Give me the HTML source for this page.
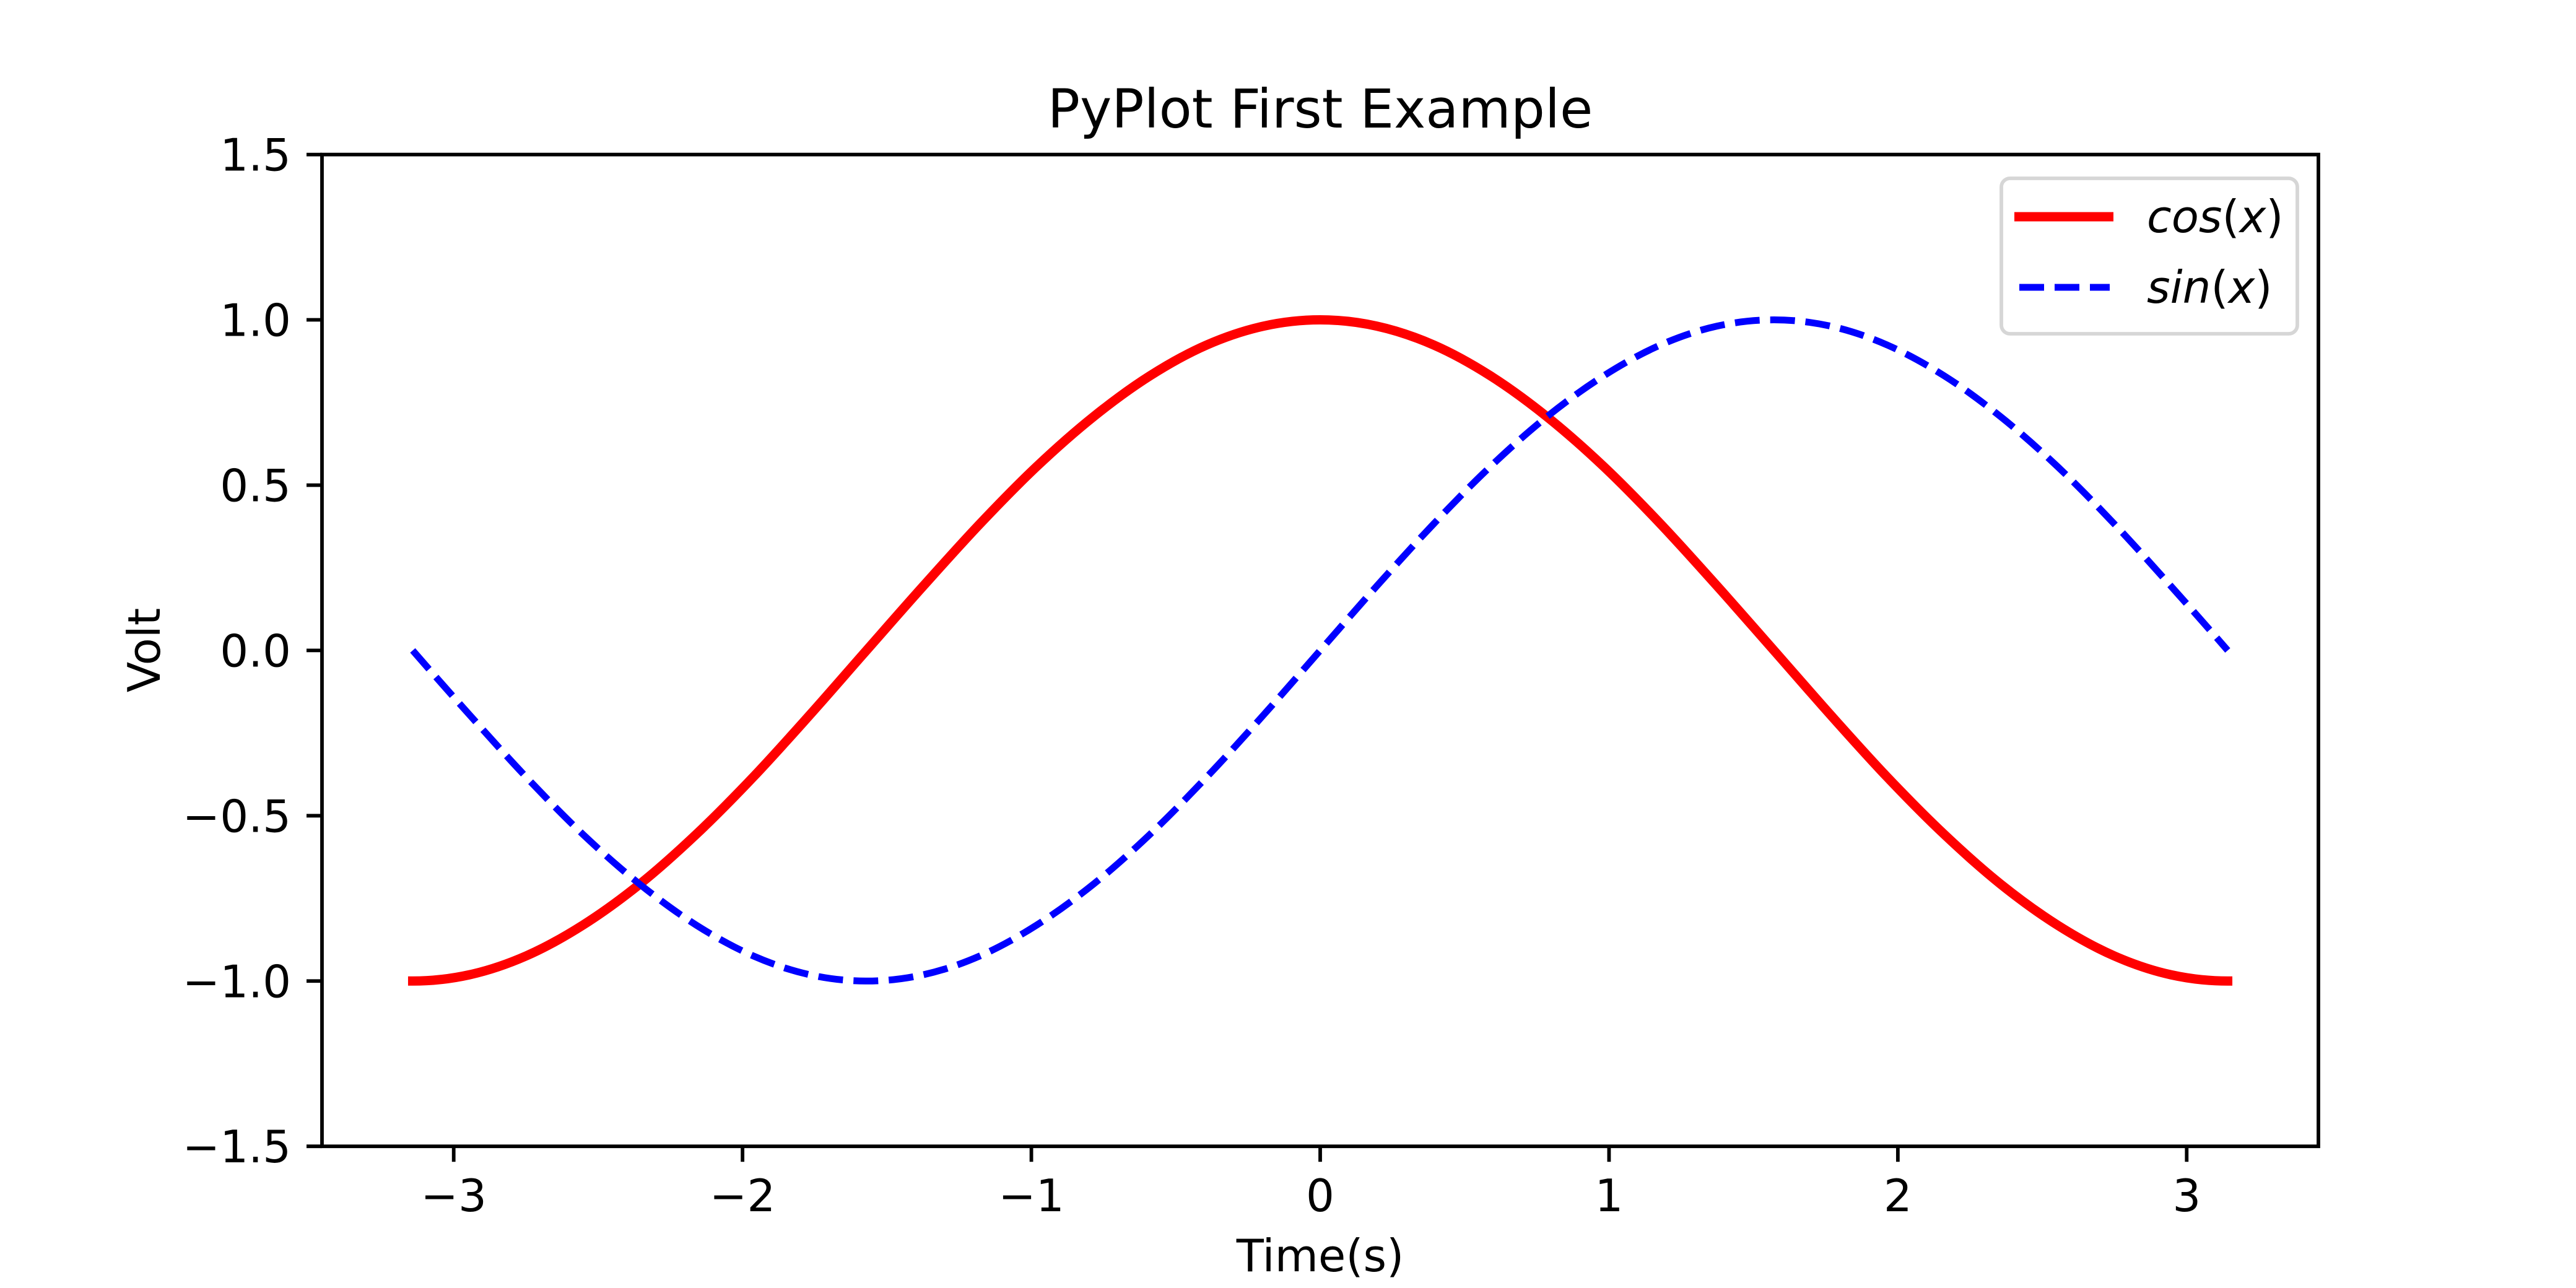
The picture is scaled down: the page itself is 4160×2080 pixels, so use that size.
<!DOCTYPE html>
<html><head><meta charset="utf-8"><style>
html,body{margin:0;padding:0;background:#fff;}
svg{display:block;}
text{font-family:"DejaVu Sans","Liberation Sans",sans-serif;fill:#000;}
</style></head><body>
<svg id="chart" width="4160" height="2080" viewBox="0 0 4160 2080" xmlns="http://www.w3.org/2000/svg">
<rect x="0" y="0" width="4160" height="2080" fill="#fff"/>
<text x="2132" y="206" font-size="86.7" text-anchor="middle">PyPlot First Example</text>
<g id="series"></g>
<g id="axes"></g>
<text x="2132" y="2053" font-size="72.2" text-anchor="middle">Time(s)</text>
<text transform="translate(258,1050) rotate(-90)" font-size="72.2" text-anchor="middle">Volt</text>
<g>
<rect x="3232" y="288" width="478" height="251" rx="14" ry="14" fill="#fff" stroke="#d6d6d6" stroke-width="5.8"/>
<line x1="3253" y1="350" x2="3413" y2="350" stroke="#ff0000" stroke-width="15"/>
<text x="3467" y="375" font-size="72.2"><tspan font-style="italic">cos</tspan>(<tspan font-style="italic">x</tspan>)</text>
<line x1="3261" y1="464" x2="3407" y2="464" stroke="#0000ff" stroke-width="11" stroke-dasharray="40 17"/>
<text x="3467" y="489" font-size="72.2"><tspan font-style="italic">sin</tspan>(<tspan font-style="italic">x</tspan>)</text>
</g>
</svg>
<script>
const xValues = [-3.142,-2.945,-2.749,-2.553,-2.356,-2.160,-1.963,-1.767,-1.571,-1.374,-1.178,-0.982,-0.785,-0.589,-0.393,-0.196,0,0.196,0.393,0.589,0.785,0.982,1.178,1.374,1.571,1.767,1.963,2.160,2.356,2.553,2.749,2.945,3.142];
const cosValues = [-1,-0.981,-0.924,-0.831,-0.707,-0.556,-0.383,-0.195,0,0.195,0.383,0.556,0.707,0.831,0.924,0.981,1,0.981,0.924,0.831,0.707,0.556,0.383,0.195,0,-0.195,-0.383,-0.556,-0.707,-0.831,-0.924,-0.981,-1];
const sinValues = [0,-0.195,-0.383,-0.556,-0.707,-0.831,-0.924,-0.981,-1,-0.981,-0.924,-0.831,-0.707,-0.556,-0.383,-0.195,0,0.195,0.383,0.556,0.707,0.831,0.924,0.981,1,0.981,0.924,0.831,0.707,0.556,0.383,0.195,0];
const xTicks = [-3,-2,-1,0,1,2,3];
const xTickLabels = ["\u22123","\u22122","\u22121","0","1","2","3"];
const yTicks = [-1.5,-1.0,-0.5,0,0.5,1.0,1.5];
const yTickLabels = ["\u22121.5","\u22121.0","\u22120.5","0.0","0.5","1.0","1.5"];

const L=520,R=3744,T=249.6,B=1851.2;
const XMIN=-3.456,XMAX=3.456,YMIN=-1.5,YMAX=1.5;
function sx(v){return L+(v-XMIN)/(XMAX-XMIN)*(R-L);}
function sy(v){return B-(v-YMIN)/(YMAX-YMIN)*(B-T);}
const NS="http://www.w3.org/2000/svg";
function mk(tag,attrs){const e=document.createElementNS(NS,tag);for(const k in attrs)e.setAttribute(k,attrs[k]);return e;}
function smoothPath(xs,ys){
  const p=xs.map((x,i)=>[sx(x),sy(ys[i])]);
  const n=p.length;
  const first=[3*p[0][0]-3*p[1][0]+p[2][0],3*p[0][1]-3*p[1][1]+p[2][1]];
  const last=[3*p[n-1][0]-3*p[n-2][0]+p[n-3][0],3*p[n-1][1]-3*p[n-2][1]+p[n-3][1]];
  const get=i=>i<0?first:(i>=n?last:p[i]);
  let d="M"+p[0][0].toFixed(2)+","+p[0][1].toFixed(2);
  for(let i=0;i<n-1;i++){
    const p0=get(i-1),p1=p[i],p2=p[i+1],p3=get(i+2);
    const c1=[p1[0]+(p2[0]-p0[0])/6,p1[1]+(p2[1]-p0[1])/6];
    const c2=[p2[0]-(p3[0]-p1[0])/6,p2[1]-(p3[1]-p1[1])/6];
    d+=" C"+c1[0].toFixed(2)+","+c1[1].toFixed(2)+" "+c2[0].toFixed(2)+","+c2[1].toFixed(2)+" "+p2[0].toFixed(2)+","+p2[1].toFixed(2);
  }
  return d;
}
const series=document.getElementById('series');
const cosPath=mk('path',{d:smoothPath(xValues,cosValues),fill:'none',stroke:'#ff0000','stroke-width':15,'stroke-linecap':'square','stroke-linejoin':'round'});


series.appendChild(cosPath);
const sinPath=mk('path',{d:smoothPath(xValues,sinValues),fill:'none',stroke:'#0000ff','stroke-width':11,'stroke-dasharray':'40 17','stroke-linejoin':'round'});


series.appendChild(sinPath);

const axes=document.getElementById('axes');
xTicks.forEach((t,i)=>{
  const x=sx(t);
  const tk=mk('line',{x1:x,y1:B,x2:x,y2:B+25,stroke:'#000','stroke-width':5.8});
  
  
  axes.appendChild(tk);
  const lb=mk('text',{x:x,y:1956,'font-size':72.2,'text-anchor':'middle'});
  lb.textContent=xTickLabels[i];
  
  
  axes.appendChild(lb);
});
yTicks.forEach((t,i)=>{
  const y=sy(t);
  const tk=mk('line',{x1:L-25,y1:y,x2:L,y2:y,stroke:'#000','stroke-width':5.8});
  
  
  axes.appendChild(tk);
  const lb=mk('text',{x:470,y:y+26,'font-size':72.2,'text-anchor':'end'});
  lb.textContent=yTickLabels[i];
  
  
  axes.appendChild(lb);
});
const frame=mk('rect',{x:L,y:T,width:R-L,height:B-T,fill:'none',stroke:'#000','stroke-width':5.8,'stroke-linejoin':'miter'});


axes.appendChild(frame);
</script>
</body></html>
